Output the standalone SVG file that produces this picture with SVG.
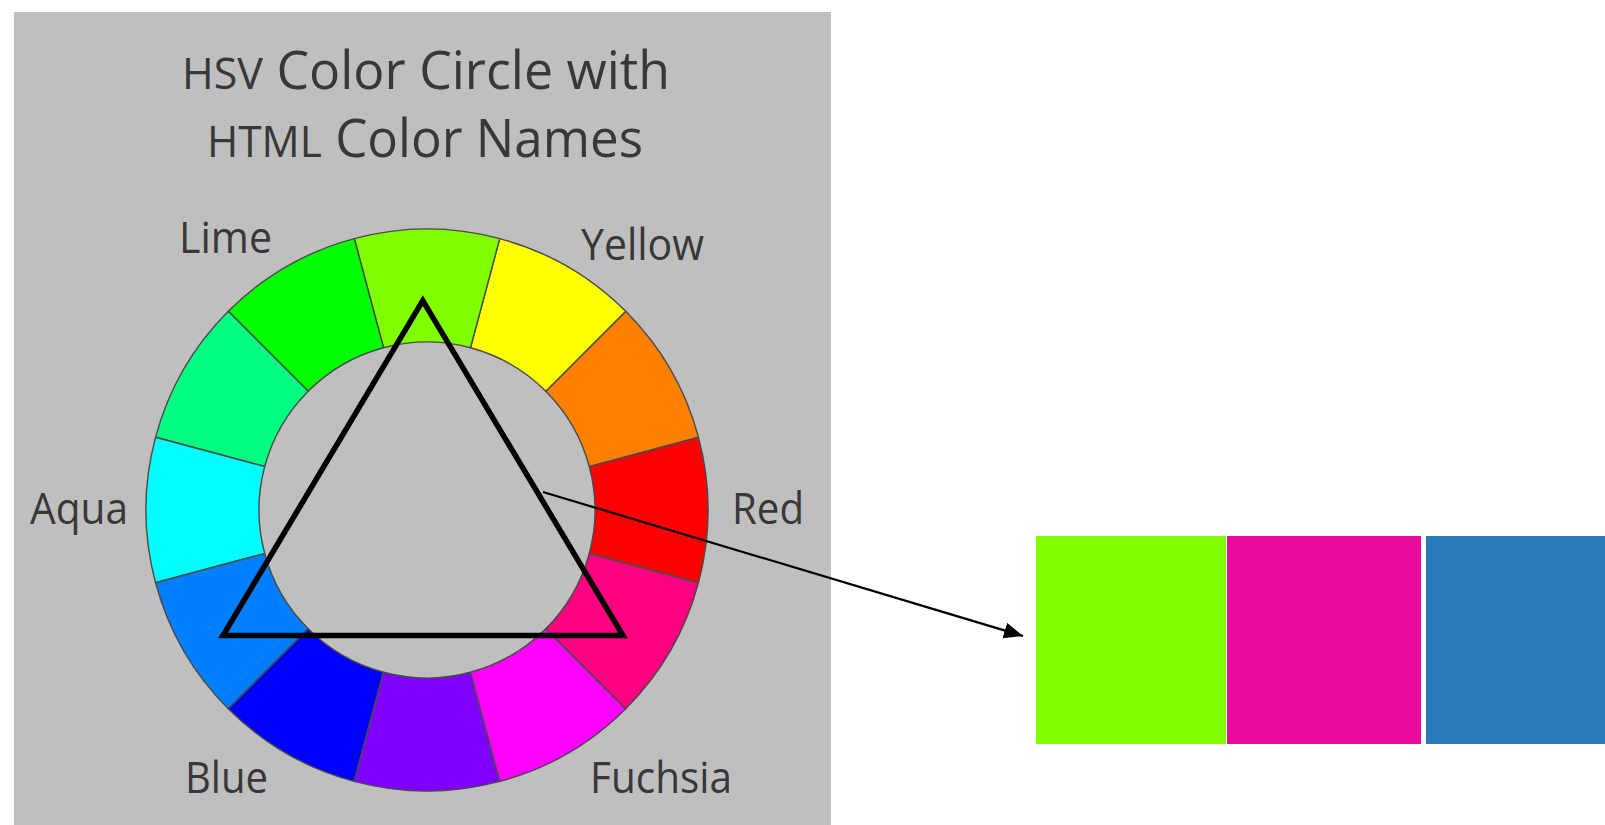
<svg xmlns="http://www.w3.org/2000/svg" width="1605" height="825" viewBox="0 0 1605 825">
<style>
.lbl{font-family:"Open Sans","Liberation Sans",sans-serif;font-size:43px;fill:#383838;}
.ttl{font-family:"Open Sans","Liberation Sans",sans-serif;font-size:53px;fill:#383838;}
.sc{font-size:44px;}
.seg{stroke:#4a4a4a;stroke-width:1.4;stroke-linejoin:round;}
.conn{fill:none;stroke:#000000;stroke-width:2.2;}
</style>
<defs>
<marker id="arrow" markerUnits="userSpaceOnUse" markerWidth="22" markerHeight="18" refX="19" refY="8" orient="auto">
<path d="M0,0 L19,8 L0,16 Z" fill="#000000"/>
</marker>
</defs>
<rect width="1605" height="825" fill="#ffffff"/>
<g id="panel">
<rect x="14" y="12" width="817" height="813" fill="#bfbfbf"/>
</g>
<g id="title">
<text class="ttl" x="426" y="89" text-anchor="middle" textLength="488" lengthAdjust="spacingAndGlyphs"><tspan class="sc">HSV</tspan> Color Circle with</text>
<text class="ttl" x="425" y="157" text-anchor="middle" textLength="436" lengthAdjust="spacingAndGlyphs"><tspan class="sc">HTML</tspan> Color Names</text>
</g>
<g id="wheel">
<path class="seg" fill="#FF0000" d="M698.43,582.73 A281,281 0 0 0 698.43,437.27 L589.28,466.52 A168,168 0 0 1 589.28,553.48 Z"/>
<path class="seg" fill="#FF8000" d="M698.43,437.27 A281,281 0 0 0 625.70,311.30 L545.79,391.21 A168,168 0 0 1 589.28,466.52 Z"/>
<path class="seg" fill="#FFFF00" d="M625.70,311.30 A281,281 0 0 0 499.73,238.57 L470.48,347.72 A168,168 0 0 1 545.79,391.21 Z"/>
<path class="seg" fill="#80FF00" d="M499.73,238.57 A281,281 0 0 0 354.27,238.57 L383.52,347.72 A168,168 0 0 1 470.48,347.72 Z"/>
<path class="seg" fill="#00FF00" d="M354.27,238.57 A281,281 0 0 0 228.30,311.30 L308.21,391.21 A168,168 0 0 1 383.52,347.72 Z"/>
<path class="seg" fill="#00FF80" d="M228.30,311.30 A281,281 0 0 0 155.57,437.27 L264.72,466.52 A168,168 0 0 1 308.21,391.21 Z"/>
<path class="seg" fill="#00FFFF" d="M155.57,437.27 A281,281 0 0 0 155.57,582.73 L264.72,553.48 A168,168 0 0 1 264.72,466.52 Z"/>
<path class="seg" fill="#0080FF" d="M155.57,582.73 A281,281 0 0 0 228.30,708.70 L308.21,628.79 A168,168 0 0 1 264.72,553.48 Z"/>
<path class="seg" fill="#0000FF" d="M228.30,708.70 A281,281 0 0 0 354.27,781.43 L383.52,672.28 A168,168 0 0 1 308.21,628.79 Z"/>
<path class="seg" fill="#8000FF" d="M354.27,781.43 A281,281 0 0 0 499.73,781.43 L470.48,672.28 A168,168 0 0 1 383.52,672.28 Z"/>
<path class="seg" fill="#FF00FF" d="M499.73,781.43 A281,281 0 0 0 625.70,708.70 L545.79,628.79 A168,168 0 0 1 470.48,672.28 Z"/>
<path class="seg" fill="#FF0080" d="M625.70,708.70 A281,281 0 0 0 698.43,582.73 L589.28,553.48 A168,168 0 0 1 545.79,628.79 Z"/>
</g>
<g id="labels">
<text class="lbl" x="179" y="253" textLength="93" lengthAdjust="spacingAndGlyphs">Lime</text>
<text class="lbl" x="581" y="260" textLength="123" lengthAdjust="spacingAndGlyphs">Yellow</text>
<text class="lbl" x="732" y="524" textLength="72" lengthAdjust="spacingAndGlyphs">Red</text>
<text class="lbl" x="30" y="524" textLength="98" lengthAdjust="spacingAndGlyphs">Aqua</text>
<text class="lbl" x="185" y="793" textLength="83" lengthAdjust="spacingAndGlyphs">Blue</text>
<text class="lbl" x="590" y="793" textLength="142" lengthAdjust="spacingAndGlyphs">Fuchsia</text>
</g>
<g id="triangle">
<path d="M422.8,300.7 L623,635.5 L223,635.5 Z" fill="none" stroke="#000000" stroke-width="5.5" stroke-linejoin="miter"/>
</g>
<g id="swatches">
<rect x="1036" y="536" width="190" height="208" fill="#7FFF00"/>
<rect x="1227" y="536" width="194" height="208" fill="#E90C9C"/>
<rect x="1426" y="536" width="179" height="208" fill="#2C79BA"/>
</g>
<g id="connectors">
<path class="conn" d="M543,492 L1023,636" marker-end="url(#arrow)"/>
</g>
</svg>
